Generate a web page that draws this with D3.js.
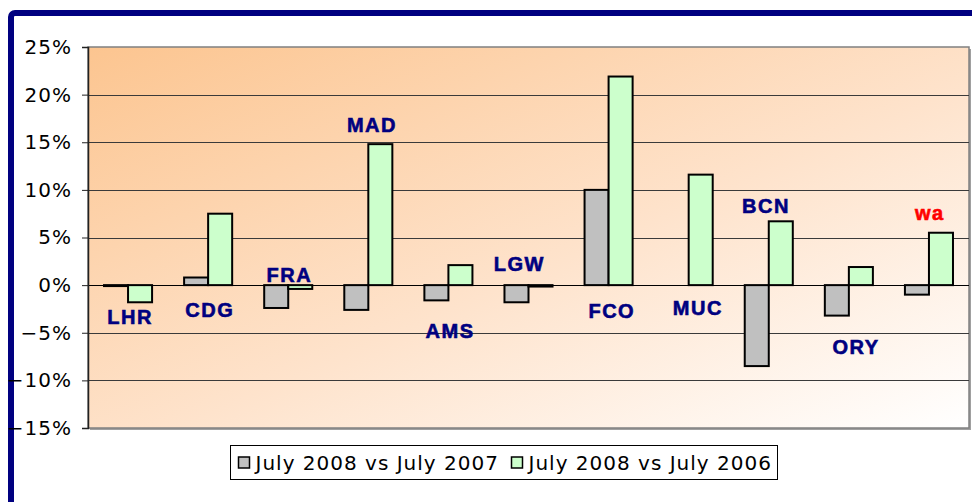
<!DOCTYPE html>
<html>
<head>
<meta charset="utf-8">
<script src="https://cdn.jsdelivr.net/npm/d3@7/dist/d3.min.js"></script>
<style>
  body { margin: 0; background: #fff; }
  svg { display: block; }
  .tick text { font-family: "DejaVu Sans", Verdana, sans-serif; font-size: 20px; letter-spacing: 1px; fill: #000; }
  .airport { font-family: "Liberation Sans", Arial, sans-serif; font-weight: bold; font-size: 20px; letter-spacing: 1.5px; stroke-width: 0.6px; }
  .legendText { font-family: "DejaVu Sans", Verdana, sans-serif; font-size: 20px; letter-spacing: 1px; }
</style>
</head>
<body>
<div id="chart"></div>
<script>
// airports along the x axis
var airports = ["LHR", "CDG", "FRA", "MAD", "AMS", "LGW", "FCO", "MUC", "BCN", "ORY", "wa"];
// growth, July 2008 vs July 2007
var vs2007 = [-0.001, 0.008, -0.024, -0.026, -0.016, -0.018, 0.100, 0.000, -0.085, -0.032, -0.010];
// growth, July 2008 vs July 2006
var vs2006 = [-0.018, 0.075, -0.004, 0.148, 0.021, -0.0015, 0.219, 0.116, 0.067, 0.019, 0.055];
// where the airport name sits (value level, and shift in bands)
var labelLevel = [-0.0335, -0.026, 0.0106, 0.168, -0.048, 0.022, -0.027, -0.024, 0.083, -0.065, 0.076];
var labelShift = [0.025, 0.02, 0.015, 0.045, 0.02, -0.115, 0.04, 0.115, -0.035, 0.09, 0.01];
var seriesNames = ["July 2008 vs July 2007", "July 2008 vs July 2006"];
var yTicks = [-0.15, -0.10, -0.05, 0, 0.05, 0.10, 0.15, 0.20, 0.25];

var W = 972, H = 502;
var margin = { top: 47, right: 3, bottom: 74, left: 88 };
var colors = ["#c0c0c0", "#ccffcc"];

var svg = d3.select("#chart").append("svg")
	.attr("width", W)
	.attr("height", H);

// navy frame, runs off the right and bottom edge
svg.append("rect")
	.attr("x", 11).attr("y", 13)
	.attr("width", W + 20).attr("height", H + 20)
	.attr("rx", 4)
	.style("fill", "#fff")
	.style("stroke", "#000080")
	.style("stroke-width", 6);

var defs = svg.append("defs");
var grad = defs.append("linearGradient")
	.attr("id", "bg")
	.attr("x1", "0").attr("y1", "0")
	.attr("x2", "1").attr("y2", "1");
grad.append("stop").attr("offset", "0%").attr("stop-color", "#fcc590");
grad.append("stop").attr("offset", "55%").attr("stop-color", "#fee3cc");
grad.append("stop").attr("offset", "100%").attr("stop-color", "#ffffff");

var x0 = d3.scaleBand()
	.domain(airports)
	.range([margin.left, W - margin.right]);

var x1 = d3.scaleBand()
	.domain([0, 1])
	.range([x0.bandwidth() * 0.2, x0.bandwidth() * 0.8]);

var y = d3.scaleLinear()
	.domain([-0.15, 0.25])
	.range([H - margin.bottom, margin.top]);

var px = x0.range()[0], pw = x0.range()[1] - x0.range()[0];
var py = y(0.25), ph = y(-0.15) - y(0.25);

// plot area with its shadow
svg.append("rect")
	.attr("x", px + 2).attr("y", py + 2)
	.attr("width", pw).attr("height", ph)
	.style("fill", "#a0a0a0");
svg.append("rect")
	.attr("x", px).attr("y", py)
	.attr("width", pw).attr("height", ph)
	.style("fill", "url(#bg)")
	.style("stroke", "#808080")
	.style("stroke-width", 1.5);

// gridlines
svg.append("g").selectAll("line")
	.data(yTicks.slice(1, -1))
	.enter().append("line")
	.attr("x1", px).attr("x2", px + pw)
	.attr("y1", function(d) { return Math.round(y(d)) + 0.5; })
	.attr("y2", function(d) { return Math.round(y(d)) + 0.5; })
	.style("stroke", function(d) { return d === 0 ? "#000" : "#3a3a3a"; })
	.style("stroke-width", 1);

// y axis
var yAxis = d3.axisLeft(y)
	.tickValues(yTicks)
	.tickFormat(d3.format(".0%"))
	.tickSize(6)
	.tickPadding(10);
var gy = svg.append("g")
	.attr("transform", "translate(" + px + ",0)")
	.call(yAxis);
gy.select(".domain").style("stroke", "#222").style("stroke-width", 1.5);
gy.selectAll(".tick line").style("stroke", "#222");

// bars
var groups = svg.append("g").selectAll("g")
	.data(airports)
	.enter().append("g")
	.attr("transform", function(d) { return "translate(" + x0(d) + ",0)"; });

groups.selectAll("rect")
	.data(function(d, i) { return [vs2007[i], vs2006[i]]; })
	.enter().append("rect")
	.attr("x", function(d, j) { return x1(j); })
	.attr("width", x1.bandwidth())
	.attr("y", function(d) { return y(Math.max(0, d)); })
	.attr("height", function(d) { return Math.abs(y(d) - y(0)); })
	.style("fill", function(d, j) { return colors[j]; })
	.style("stroke", "#000")
	.style("stroke-width", 2)
	.style("display", function(d) { return d === 0 ? "none" : null; });

// airport names
svg.append("g").selectAll("text")
	.data(airports)
	.enter().append("text")
	.attr("class", "airport")
	.attr("x", function(d, i) { return x0(d) + x0.bandwidth() * (0.5 + labelShift[i]); })
	.attr("y", function(d, i) { return y(labelLevel[i]); })
	.attr("dy", "0.36em")
	.style("text-anchor", "middle")
	.style("fill", function(d) { return d === "wa" ? "#ff0000" : "#000080"; })
	.style("stroke", function(d) { return d === "wa" ? "#ff0000" : "#000080"; })
	.text(function(d) { return d; });

// legend
var legend = svg.append("g").attr("transform", "translate(230.5,445.5)");
legend.append("rect")
	.attr("width", 547).attr("height", 34)
	.style("fill", "#fff")
	.style("stroke", "#000")
	.style("stroke-width", 1);

var itemX = [8, 281];
var items = legend.selectAll(".item")
	.data(seriesNames)
	.enter().append("g")
	.attr("class", "item")
	.attr("transform", function(d, i) { return "translate(" + itemX[i] + ",0)"; });
items.append("rect")
	.attr("x", 0).attr("y", 11.5)
	.attr("width", 11).attr("height", 11)
	.style("fill", function(d, i) { return colors[i]; })
	.style("stroke", "#000")
	.style("stroke-width", 1.5);
items.append("text")
	.attr("class", "legendText")
	.attr("x", 17).attr("y", 17)
	.attr("dy", "0.36em")
	.text(function(d) { return d; });
</script>
</body>
</html>
